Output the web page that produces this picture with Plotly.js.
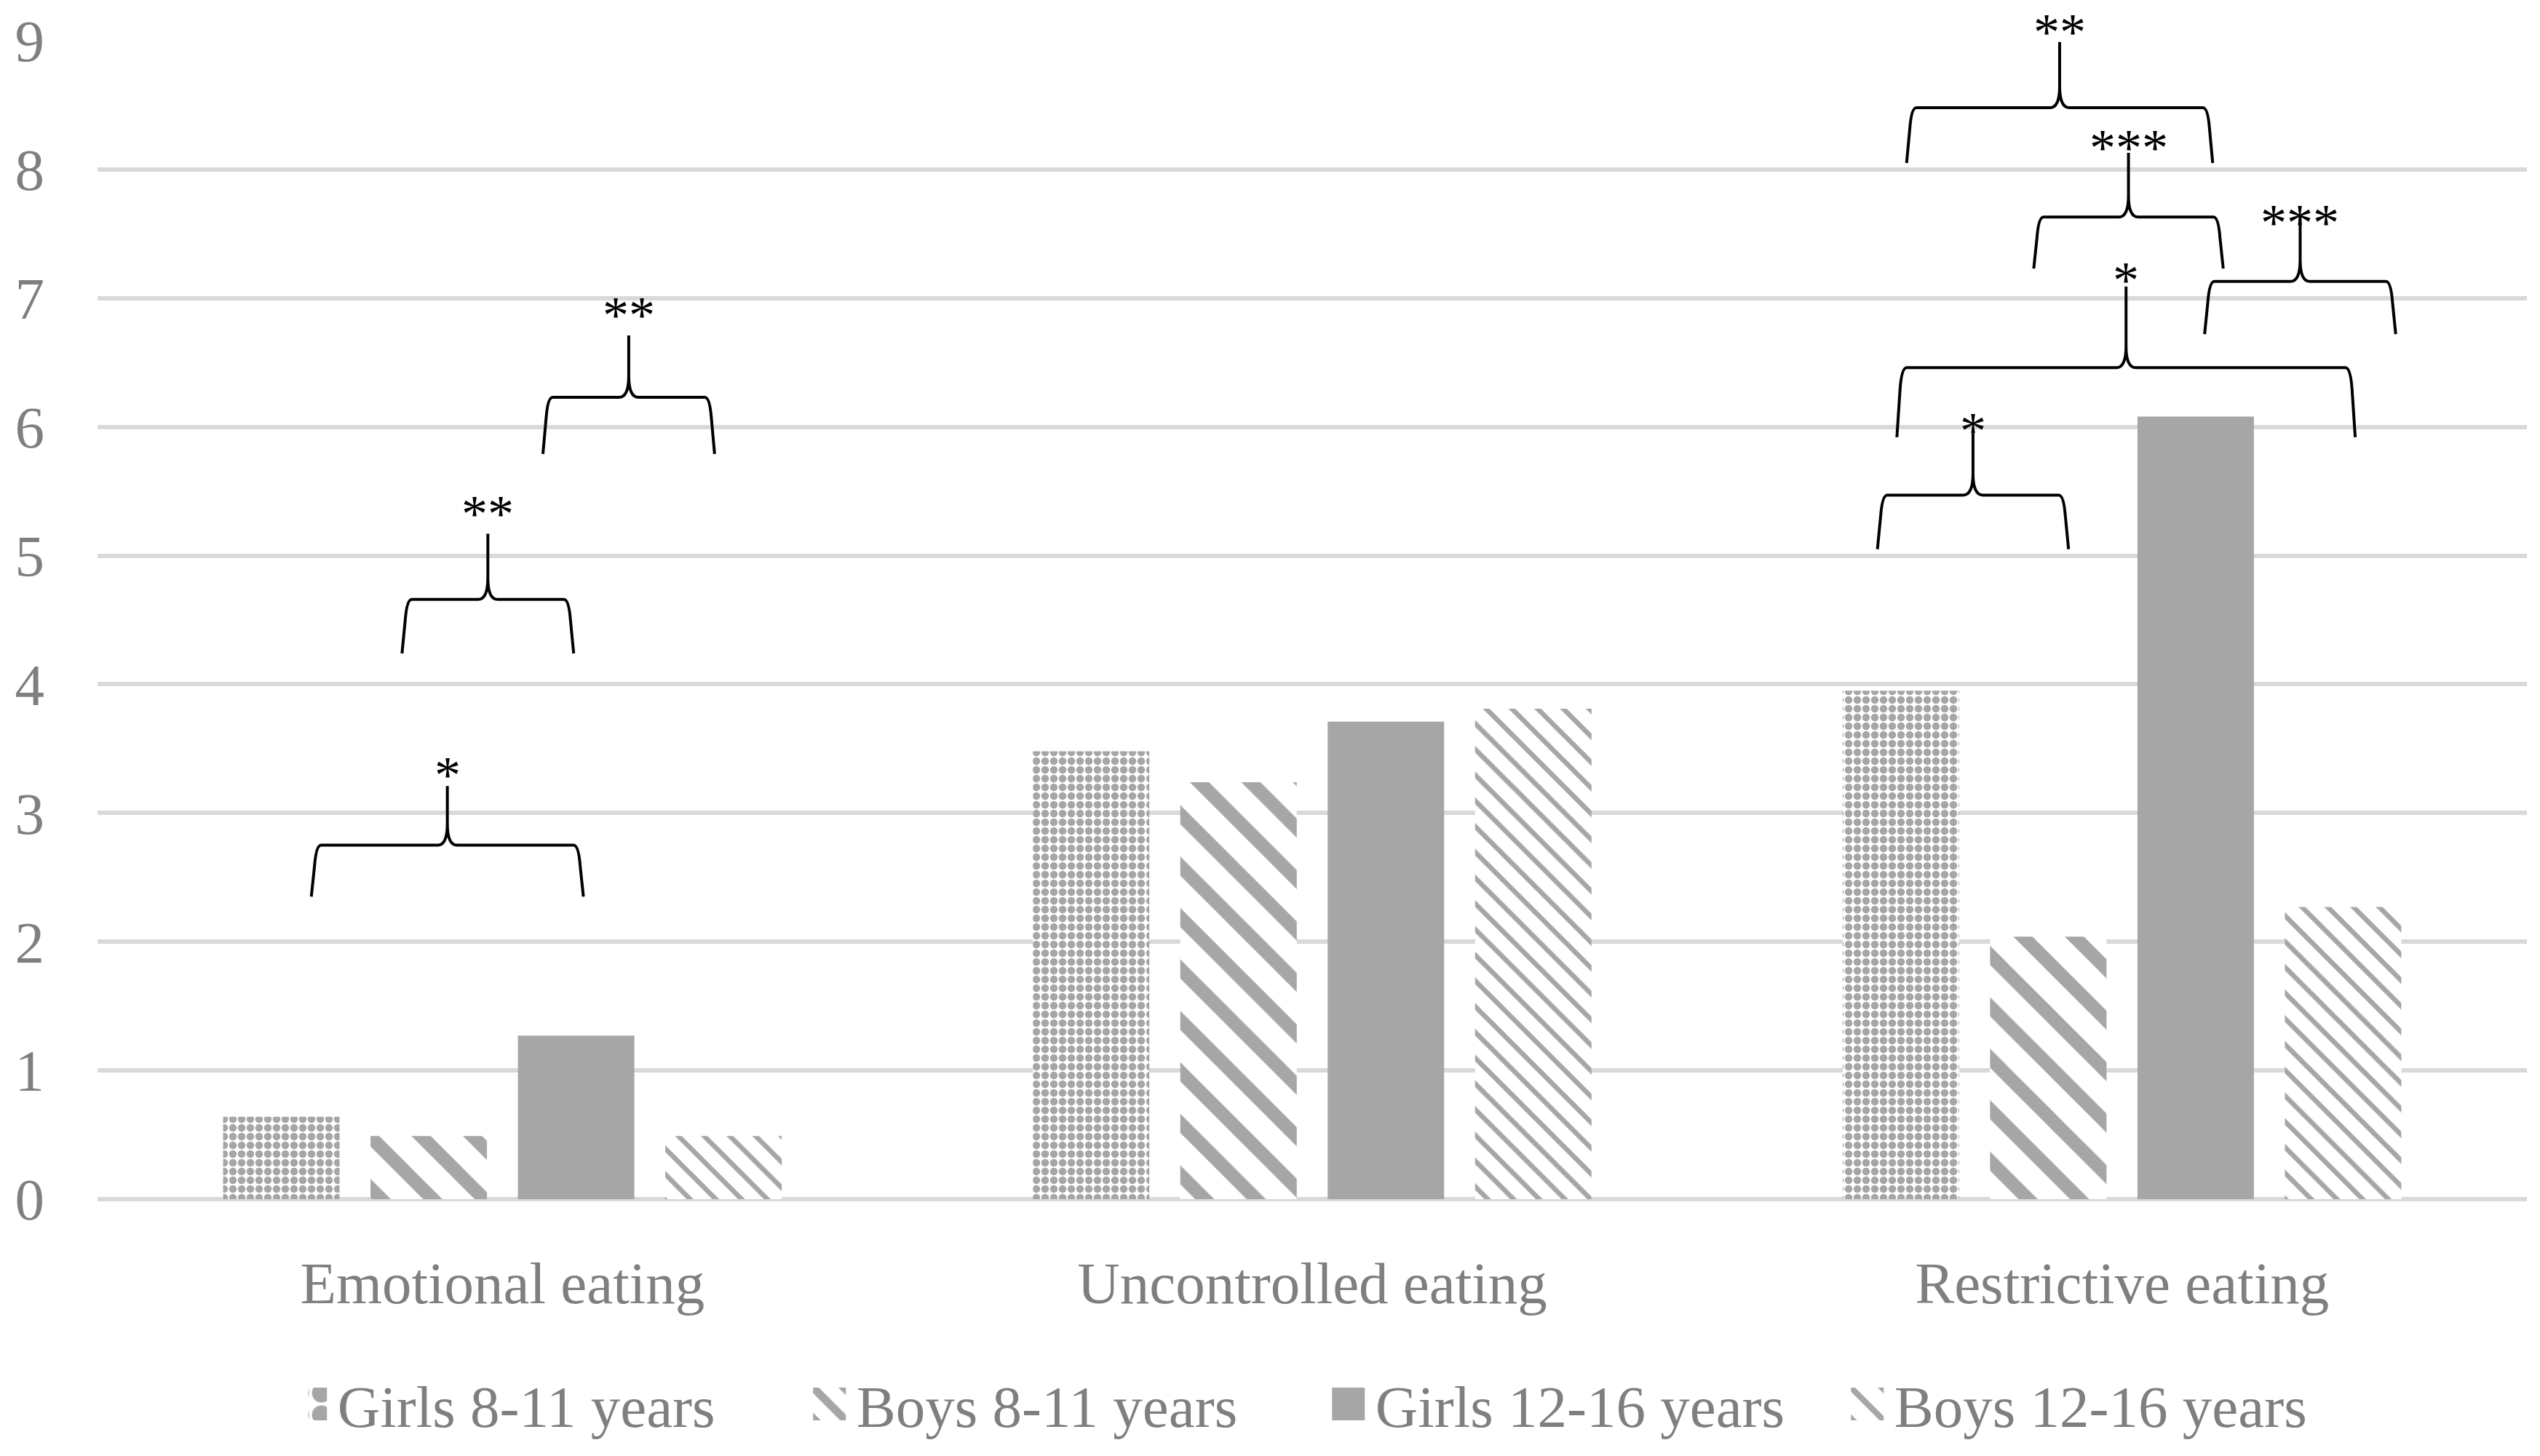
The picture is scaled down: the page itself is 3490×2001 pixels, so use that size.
<!DOCTYPE html>
<html>
<head>
<meta charset="utf-8">
<script src="https://cdn.plot.ly/plotly-3.0.1.min.js"></script>
<style>
  html, body { margin: 0; padding: 0; background: #ffffff; }
  #chart { width: 3490px; height: 2001px; }
</style>
</head>
<body>
<div id="chart"></div>
<script>
// ---- data ----
const categories = ['Emotional eating', 'Uncontrolled eating', 'Restrictive eating'];
const seriesNames = ['Girls 8-11 years', 'Boys 8-11 years', 'Girls 12-16 years', 'Boys 12-16 years'];
const girls8to11 = [0.64, 3.48, 3.95];
const boys8to11 = [0.49, 3.24, 2.04];
const girls12to16 = [1.27, 3.71, 6.08];
const boys12to16 = [0.49, 3.81, 2.27];
const yTicks = [0, 1, 2, 3, 4, 5, 6, 7, 8, 9];
const yMax = 9;

// significance braces: x in category units (0 = first category), y in axis units
const braceLefts   = [-0.236, -0.124, 0.050, 1.698, 1.722, 2.102, 1.891, 1.734];
const braceRights  = [ 0.100,  0.088, 0.262, 1.934, 2.288, 2.338, 2.125, 2.112];
const braceBottoms = [ 2.35,   4.24,  5.79,  5.05,  5.92,  6.72,  7.23,  8.05];
const braceLevels  = [ 2.75,   4.66,  6.23,  5.47,  6.46,  7.13,  7.63,  8.48];
const braceTops    = [ 3.21,   5.17,  6.71,  5.95,  7.09,  7.63,  8.13,  8.99];
const braceLabelYs = [ 3.36,   5.39,  6.93,  6.03,  7.20,  7.65,  8.23,  9.13];
const braceLabels  = ['*', '**', '**', '*', '*', '***', '***', '**'];

// ---- styling ----
const GREY = '#A6A6A6';
const TEXT = '#7F7F7F';
const FONT = 'Liberation Serif, Times New Roman, serif';
const FS = 81;
const xIdx = categories.map((_, i) => i);

const patterns = [
  {shape: '.', size: 12, solidity: 0.6, fgcolor: GREY, bgcolor: '#ffffff', fillmode: 'replace'},
  {shape: '\\', size: 50, solidity: 0.37, fgcolor: GREY, bgcolor: '#ffffff', fillmode: 'replace'},
  null,
  {shape: '\\', size: 25, solidity: 0.27, fgcolor: GREY, bgcolor: '#ffffff', fillmode: 'replace'}
];
const seriesValues = [girls8to11, boys8to11, girls12to16, boys12to16];

const traces = seriesValues.map((vals, k) => {
  const marker = {color: patterns[k] ? '#ffffff' : GREY, line: {width: 0}};
  if (patterns[k]) marker.pattern = patterns[k];
  return {
    type: 'bar',
    name: seriesNames[k],
    x: xIdx,
    y: vals,
    marker: marker,
    hoverinfo: 'skip'
  };
});

function bracePath(x0, x1, yb, yh, yt) {
  const xc = (x0 + x1) / 2;
  const dx = 0.012, dy = 0.16, cdx = 0.012, cdy = 0.17;
  return 'M' + x0 + ',' + yb + ' L' + (x0 + 0.004) + ',' + (yh - dy) +
         ' Q' + (x0 + 0.006) + ',' + yh + ' ' + (x0 + dx) + ',' + yh +
         ' L' + (xc - cdx) + ',' + yh +
         ' Q' + xc + ',' + yh + ' ' + xc + ',' + (yh + cdy) +
         ' L' + xc + ',' + yt +
         ' M' + x1 + ',' + yb + ' L' + (x1 - 0.004) + ',' + (yh - dy) +
         ' Q' + (x1 - 0.006) + ',' + yh + ' ' + (x1 - dx) + ',' + yh +
         ' L' + (xc + cdx) + ',' + yh +
         ' Q' + xc + ',' + yh + ' ' + xc + ',' + (yh + cdy);
}

const shapes = braceLefts.map((x0, i) => ({
  type: 'path',
  xref: 'x', yref: 'y',
  path: bracePath(x0, braceRights[i], braceBottoms[i], braceLevels[i], braceTops[i]),
  line: {color: '#000000', width: 4},
  layer: 'above'
}));

const annotations = braceLefts.map((x0, i) => ({
  xref: 'x', yref: 'paper',
  x: (x0 + braceRights[i]) / 2,
  y: braceLabelYs[i] / yMax,
  text: braceLabels[i],
  showarrow: false,
  xanchor: 'center', yanchor: 'middle',
  yshift: -11,
  font: {family: FONT, size: 72, color: '#000000'}
}));

const layout = {
  width: 3490,
  height: 2001,
  paper_bgcolor: '#ffffff',
  plot_bgcolor: '#ffffff',
  margin: {l: 134, r: 18, t: 56, b: 345, pad: 0},
  barmode: 'group',
  bargap: 0.272,
  bargroupgap: 0.21,
  font: {family: FONT, size: FS, color: TEXT},
  showlegend: true,
  legend: {
    orientation: 'h',
    xref: 'paper', yref: 'paper',
    x: 0.514, xanchor: 'center',
    y: -0.177, yanchor: 'middle',
    font: {family: FONT, size: FS, color: TEXT},
    entrywidth: 668,
    entrywidthmode: 'pixels',
    bgcolor: 'rgba(0,0,0,0)',
    traceorder: 'normal'
  },
  xaxis: {
    type: 'linear',
    range: [-0.5, 2.5],
    tickmode: 'array',
    tickvals: xIdx,
    ticktext: categories,
    showgrid: false,
    zeroline: false,
    showline: false,
    ticks: '',
    ticklabelstandoff: 61,
    tickfont: {family: FONT, size: FS, color: TEXT},
    automargin: false,
    fixedrange: true
  },
  yaxis: {
    range: [0, yMax],
    tickmode: 'array',
    tickvals: yTicks,
    ticktext: yTicks.map(String),
    showgrid: true,
    gridcolor: '#D9D9D9',
    gridwidth: 6,
    zeroline: true,
    zerolinecolor: '#D9D9D9',
    zerolinewidth: 6,
    showline: false,
    ticks: '',
    ticklabelstandoff: 72,
    tickfont: {family: FONT, size: FS, color: TEXT},
    automargin: false,
    fixedrange: true
  },
  shapes: shapes,
  annotations: annotations
};

Plotly.newPlot('chart', traces, layout, {staticPlot: true, displayModeBar: false}).then(() => {
  // enlarge legend swatches to match the reference's square keys
  document.querySelectorAll('.legend .legendpoints path').forEach(p => {
    const t = p.getAttribute('transform') || '';
    p.setAttribute('transform', t + ' translate(-17,0) scale(3.75)');
  });
});
</script>
</body>
</html>
